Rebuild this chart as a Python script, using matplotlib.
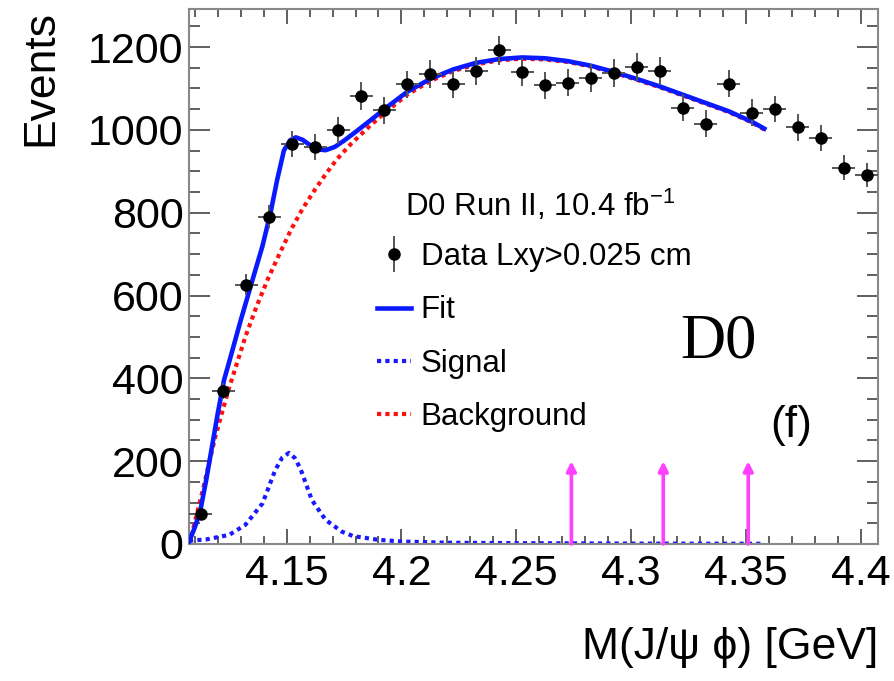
import matplotlib
matplotlib.use("Agg")
import matplotlib.pyplot as plt
from matplotlib.lines import Line2D
from matplotlib.legend_handler import HandlerTuple
from matplotlib.ticker import MultipleLocator, FormatStrFormatter

plt.rcParams['font.family'] = ['Liberation Sans', 'DejaVu Sans']
plt.rcParams['mathtext.default'] = 'regular'

# binned data, M(J/psi phi) bin centres [GeV]
mass = [4.1125, 4.1225, 4.1325, 4.1425, 4.1525, 4.1625, 4.1725, 4.1825, 4.1925, 4.2025,
        4.2125, 4.2225, 4.2325, 4.2425, 4.2525, 4.2625, 4.2725, 4.2825, 4.2925, 4.3025,
        4.3125, 4.3225, 4.3325, 4.3425, 4.3525, 4.3625, 4.3725, 4.3825, 4.3925, 4.4025]
events = [72, 369, 626, 790, 966, 959, 999, 1082, 1047, 1110,
          1134, 1110, 1142, 1192, 1140, 1108, 1114, 1126, 1138, 1152,
          1142, 1054, 1015, 1112, 1042, 1051, 1006, 981, 909, 891]
err = [8.5, 19, 25, 28, 31, 31, 32, 33, 32, 33,
       34, 33, 34, 35, 34, 33, 33, 34, 34, 34,
       34, 32, 32, 33, 32, 32, 32, 31, 30, 30]
half_bin = 0.005

# fit curves
fit_x = [4.1075, 4.1100, 4.1124, 4.1150, 4.1175, 4.1200, 4.1227, 4.1250, 4.1300, 4.1350,
         4.1395, 4.1430, 4.1459, 4.1488, 4.1515, 4.1540, 4.1570, 4.1600, 4.1635, 4.1670,
         4.1710, 4.1750, 4.1800, 4.1867, 4.1925, 4.2025, 4.2125, 4.2225, 4.2325, 4.2425,
         4.2525, 4.2625, 4.2725, 4.2825, 4.2925, 4.3025, 4.3125, 4.3225, 4.3325, 4.3425,
         4.3525, 4.3580]
fit_y = [5, 40, 80, 155, 235, 315, 395, 440, 540, 635,
         720, 800, 880, 950, 975, 982, 976, 964, 953, 951,
         959, 974, 995, 1024, 1050, 1092, 1123, 1146, 1162, 1171,
         1175, 1173, 1166, 1155, 1140, 1123, 1105, 1085, 1065, 1045,
         1020, 1003]

bkg_x = [4.1075, 4.109, 4.111, 4.1135, 4.116, 4.119, 4.122, 4.125, 4.128, 4.132,
         4.137, 4.142, 4.147, 4.152, 4.157, 4.162, 4.167, 4.172, 4.178, 4.1867,
         4.1925, 4.2025, 4.2125, 4.2225, 4.2325, 4.2425, 4.2525, 4.2625, 4.2725, 4.2825,
         4.2925, 4.3025, 4.3125, 4.3225, 4.3325, 4.3425, 4.3525, 4.358]
bkg_y = [0, 30, 75, 130, 190, 260, 320, 378, 430, 500,
         575, 642, 702, 760, 810, 853, 893, 930, 966, 1012,
         1040, 1085, 1118, 1142, 1158, 1168, 1172, 1170, 1164, 1153,
         1138, 1121, 1103, 1083, 1063, 1043, 1018, 1001]

sig_x = [4.1075, 4.115, 4.125, 4.132, 4.1395, 4.145, 4.148, 4.151, 4.1535, 4.156,
         4.161, 4.167, 4.174, 4.179, 4.19, 4.2, 4.22, 4.25, 4.3, 4.358]
sig_y = [8, 11, 22, 46, 98, 178, 208, 220, 208, 182,
         106, 58, 30, 19, 10, 6, 3, 2, 1, 0.5]

arrow_x = [4.274, 4.314, 4.351]
arrow_top = 200

fig = plt.figure(figsize=(8.95, 6.81), dpi=100)
ax = fig.add_axes([0.2112, 0.2012, 0.7698, 0.7856])

ax.plot(bkg_x, bkg_y, color='#ff1010', lw=3, ls=(0, (1, 1)), zorder=2)
ax.plot(sig_x, sig_y, color='#1a1aff', lw=3, ls=(0, (1, 1)), zorder=2)
ax.plot(fit_x, fit_y, color='#0a1aff', lw=3.3, zorder=3, solid_joinstyle='round')

for xa in arrow_x:
    ax.annotate('', xy=(xa, arrow_top), xytext=(xa, 0),
                arrowprops=dict(arrowstyle='-|>', color='#ff40ff', lw=2.6,
                                mutation_scale=14, shrinkA=0, shrinkB=0), zorder=4)

ax.errorbar(mass, events, yerr=err, xerr=half_bin, fmt='o', color='black',
            ms=8, ecolor='#555555', elinewidth=1.4, capsize=0, zorder=5)

ax.set_xlim(4.1075, 4.4075)
ax.set_ylim(0, 1292)
ax.xaxis.set_major_locator(MultipleLocator(0.05))
ax.xaxis.set_minor_locator(MultipleLocator(0.01))
ax.xaxis.set_major_formatter(FormatStrFormatter('%g'))
ax.yaxis.set_major_locator(MultipleLocator(200))
ax.yaxis.set_minor_locator(MultipleLocator(50))

for s in ax.spines.values():
    s.set_color('#888888')
    s.set_linewidth(1.5)
ax.tick_params(which='both', direction='in', top=True, right=True, color='#444444',
               width=1.2, labelsize=31)
ax.tick_params(axis='x', which='major', length=11, pad=7)
ax.tick_params(axis='x', which='minor', length=5.5)
ax.tick_params(axis='y', which='major', length=15, pad=4)
ax.tick_params(axis='y', which='minor', length=8)

fig.text(41 / 895, 1 - 10 / 681, 'Events', rotation=90, ha='center', va='top', fontsize=32)
fig.text(878 / 895, 1 - 648 / 681, 'M(J/\u03c8 \u03d5) [GeV]', ha='right', va='center',
         fontsize=32)

fig.text(405 / 895, 1 - 205 / 681, 'D0 Run II, 10.4 fb$^{-1}$', ha='left', va='center',
         fontsize=22.5)
fig.text(680 / 895, 1 - 357 / 681, 'D0', ha='left', va='baseline', fontsize=45,
         family='Liberation Serif')
fig.text(770 / 895, 1 - 426 / 681, '(f)', ha='left', va='center', fontsize=32)

handles = [
    (Line2D([], [], ls='none', marker='|', ms=26, mew=1.4, color='#555555'),
     Line2D([], [], ls='none', marker='o', ms=8, color='black')),
    Line2D([], [], color='#0a1aff', lw=3.3),
    Line2D([], [], color='#1a1aff', lw=3, ls=(0, (1, 1))),
    Line2D([], [], color='#ff1010', lw=3, ls=(0, (1, 1))),
]
labels = ['Data Lxy>0.025 cm', 'Fit', 'Signal', 'Background']
ax.legend(handles, labels, loc='upper left', bbox_to_anchor=(377 / 895, 1 - 242 / 681),
          bbox_transform=fig.transFigure, frameon=False, fontsize=22.5,
          handlelength=1.1, handletextpad=0.3, labelspacing=0.75,
          borderpad=0, borderaxespad=0,
          handler_map={tuple: HandlerTuple(ndivide=1)})

fig.savefig('out.png', dpi=100)
